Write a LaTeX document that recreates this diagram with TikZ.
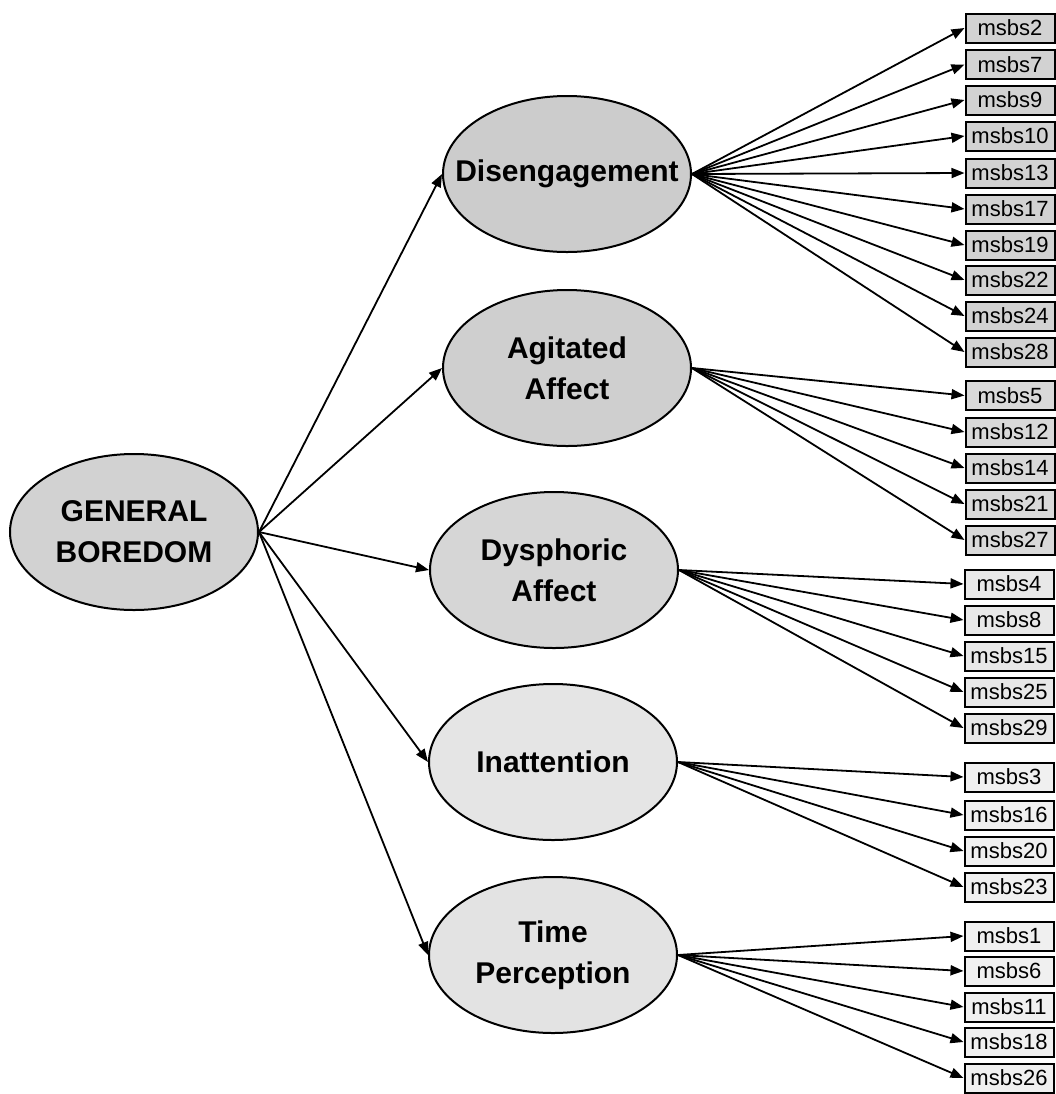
\documentclass[tikz,border=0pt]{standalone}
\usepackage{fontspec}
\setmainfont{Liberation Sans}
\usetikzlibrary{shapes.geometric,arrows.meta}

\tikzset{
  factor/.style={ellipse,draw,line width=1pt,minimum width=124pt,
    minimum height=78pt,inner xsep=-18pt,inner ysep=0pt,align=center,
    font=\bfseries\fontsize{15}{20.5}\selectfont},
  item/.style={rectangle,draw,line width=1pt,minimum width=44.5pt,
    minimum height=14.5pt,inner sep=0pt,font=\fontsize{11}{12}\selectfont},
  flecha/.style={line width=0.9pt,-{Triangle[length=6.5pt,width=5pt]}}
}

\begin{document}
\begin{tikzpicture}[x=0.5pt,y=-0.5pt]
\useasboundingbox (0,0) rectangle (1056,1094);

% Factores
\node[factor,fill=gray!35] (gb)  at (134,532) {GENERAL\\BOREDOM};
\node[factor,fill=gray!40] (dis) at (567,174) {Disengagement};
\node[factor,fill=gray!38] (agi) at (567,368) {Agitated\\Affect};
\node[factor,fill=gray!32] (dys) at (554,570) {Dysphoric\\Affect};
\node[factor,fill=gray!20] (ina) at (553,762) {Inattention};
\node[factor,fill=gray!22] (tim) at (553,955) {Time\\Perception};

% Factor general
\foreach \f in {dis,agi,dys,ina,tim}
  \draw[flecha] (gb.east) -- (\f.west);

% Items de Disengagement
\foreach \i/\y in {2/28,7/64.5,9/100,10/136,13/173,17/209,19/245,22/280,24/316,28/352}{
  \node[item,fill=gray!35] (m\i) at (1010,\y) {msbs\i};
  \draw[flecha] (dis.east) -- (m\i.west);
}

% Items de Agitated Affect
\foreach \i/\y in {5/395.5,12/432,14/468,21/504,27/540}{
  \node[item,fill=gray!30] (m\i) at (1010,\y) {msbs\i};
  \draw[flecha] (agi.east) -- (m\i.west);
}

% Items de Dysphoric Affect
\foreach \i/\y in {4/584,8/620,15/656,25/692,29/728}{
  \node[item,fill=gray!18] (m\i) at (1009,\y) {msbs\i};
  \draw[flecha] (dys.east) -- (m\i.west);
}

% Items de Inattention
\foreach \i/\y in {3/777,16/815,20/851,23/887}{
  \node[item,fill=gray!12] (m\i) at (1009,\y) {msbs\i};
  \draw[flecha] (ina.east) -- (m\i.west);
}

% Items de Time Perception
\foreach \i/\y in {1/936,6/971,11/1007,18/1042,26/1078}{
  \node[item,fill=gray!12] (m\i) at (1009,\y) {msbs\i};
  \draw[flecha] (tim.east) -- (m\i.west);
}
\end{tikzpicture}
\end{document}
